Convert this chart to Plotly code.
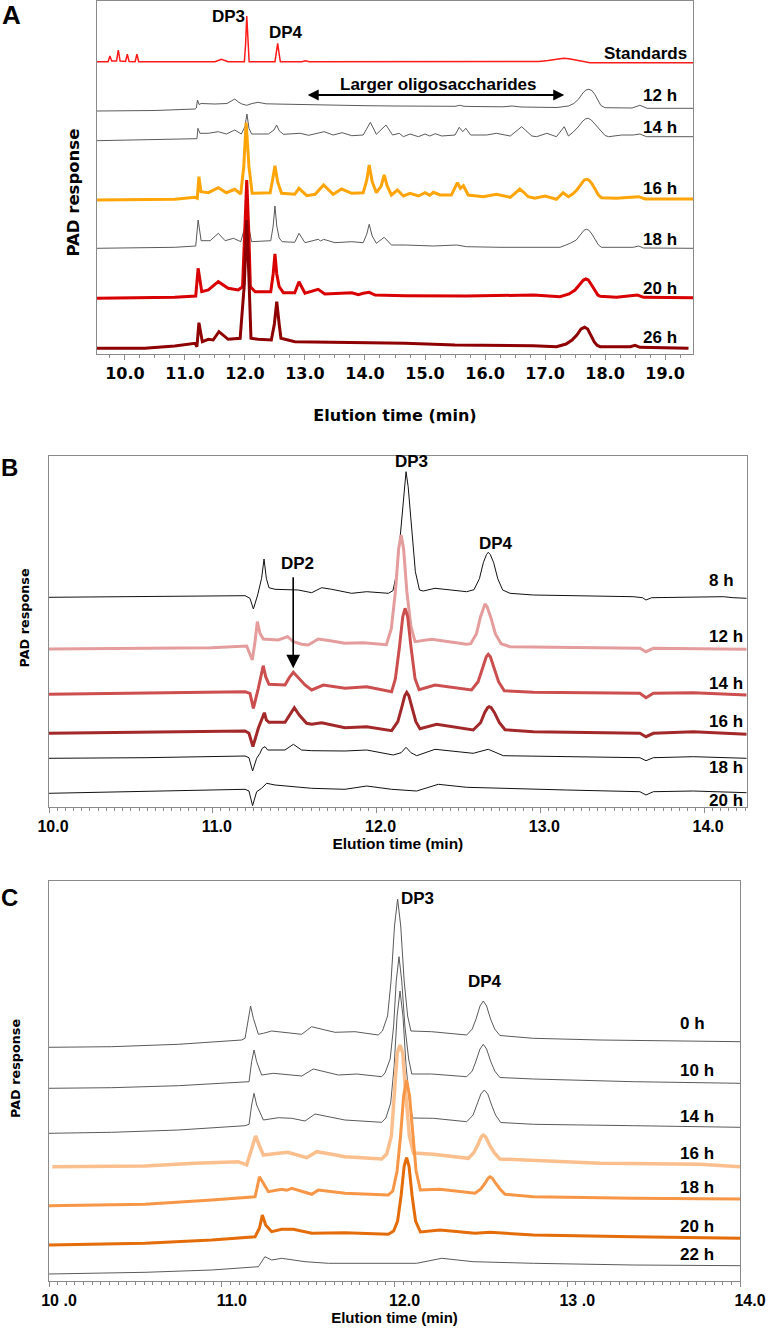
import plotly.graph_objects as go

W, H = 771, 1330

# ---------------- DATA (elution time in min, PAD response in arbitrary stacked units) -------------
# Panel A
A_STD = [(9.53,292.3),(9.72,292.3),(9.75,298),(9.78,293),(9.86,293),(9.89,304),(9.92,293),(10.01,292.5),(10.04,299.7),(10.07,292.5),(10.17,292.3),(10.20,299.7),(10.23,292.3),(11.5,292.3),(11.61,294.7),(11.72,292.3),(11.99,292.3),(12.01,309),(12.03,338),(12.05,309),(12.07,292.3),(12.50,292.3),(12.525,302),(12.545,310.7),(12.565,302),(12.59,292.3),(12.95,292.3),(13.01,293.3),(13.07,292.3),(13.45,292.3),(13.5,292.7),(13.55,292.3),(16.5,292),(16.9,292.5),(17.05,293.5),(17.15,294.6),(17.23,295.4),(17.31,295.7),(17.4,295.2),(17.5,294),(17.62,292.4),(17.75,291.3),(19.47,291.3)]
A_12 = [(9.53,243),(10.5,243.5),(11.17,245),(11.19,246),(11.21,254),(11.235,249.5),(11.27,250.5),(11.5,250),(11.7,250.5),(11.77,252.5),(11.83,255),(11.89,252),(11.95,250),(12.03,248.7),(12.12,250.5),(12.22,251.7),(12.35,250.2),(12.5,250),(13.0,249.2),(13.5,248.7),(14.0,248.3),(14.5,248),(15.5,247.7),(15.58,248.7),(15.65,247.7),(15.8,247.5),(16.3,247.2),(16.45,248),(16.6,247),(17.2,246.5),(17.39,248),(17.48,250.5),(17.56,255),(17.63,261),(17.68,264),(17.73,264.7),(17.78,263.5),(17.83,259.5),(17.88,253.5),(17.93,248.5),(18.0,246.3),(18.45,246),(18.58,248.7),(18.7,245.7),(19.47,245.7)]
A_14 = [(9.53,213.3),(11.17,214.7),(11.2,215.3),(11.217,225.7),(11.25,220.7),(11.39,220.7),(11.556,222.3),(11.69,220),(11.83,224),(11.94,220),(12.0,227.3),(12.033,240),(12.067,225.7),(12.11,220),(12.39,220),(12.483,224),(12.528,229),(12.57,223.3),(12.64,219.7),(12.92,220.7),(13.06,218.7),(13.32,222.3),(13.47,219),(13.62,221.3),(13.78,218.3),(13.97,219),(14.09,231.7),(14.19,219.7),(14.35,229),(14.46,219),(14.57,220.7),(14.64,217.3),(14.75,220),(14.89,217.3),(15.0,220),(15.08,218),(15.17,220.3),(15.28,218),(15.5,219),(15.57,226.7),(15.63,222.3),(15.68,225.7),(15.76,219),(16.03,219),(16.19,220.7),(16.42,218),(16.55,224),(16.61,227.3),(16.67,224),(16.78,218),(16.86,217.3),(17.03,220.7),(17.19,217.3),(17.32,227.3),(17.39,218),(17.47,222),(17.55,227),(17.63,233),(17.68,235.3),(17.72,235.7),(17.77,234),(17.83,230),(17.9,226),(17.95,222),(18.0,218.5),(18.06,217.3),(18.28,219),(18.47,219),(18.58,220),(18.69,217.3),(19.47,217.3)]
A_16 = [(9.53,154),(10.83,154.7),(11.17,156.7),(11.206,155.7),(11.233,177.3),(11.267,162.3),(11.39,161.3),(11.556,166.3),(11.69,161.3),(11.83,164.7),(11.93,160),(11.98,187.3),(12.02,231.3),(12.067,187.3),(12.12,160.7),(12.42,161.3),(12.46,174),(12.5,188.3),(12.544,172.3),(12.61,160.7),(12.83,159.7),(12.9,165.7),(13.03,158.3),(13.17,159.7),(13.31,169),(13.47,159.7),(13.61,165),(13.78,160.7),(13.97,161.3),(14.03,174),(14.07,189),(14.12,172.3),(14.19,161.3),(14.27,168),(14.32,179),(14.37,168),(14.44,159),(14.54,164),(14.64,158),(14.75,160.7),(14.89,158),(15.0,161.3),(15.08,158.7),(15.14,161.7),(15.25,159),(15.44,159),(15.54,171.3),(15.59,165.7),(15.64,168.3),(15.72,159),(15.97,157.3),(16.19,159.7),(16.42,156.7),(16.52,162),(16.58,165),(16.64,162),(16.72,157.3),(16.83,155.7),(17.0,158),(17.19,154.7),(17.3,161.3),(17.39,157.3),(17.46,160),(17.53,164),(17.6,170),(17.65,173.8),(17.69,174.7),(17.73,174),(17.78,170.5),(17.84,164),(17.89,159),(17.94,156.3),(18.19,155.7),(18.56,157.3),(18.67,155),(19.47,155)]
A_18 = [(9.53,105.7),(10.83,106.7),(11.18,108),(11.22,134),(11.27,113.3),(11.42,113.3),(11.556,120.7),(11.67,113.3),(11.81,115.7),(11.93,112.3),(11.99,125),(12.03,140.7),(12.07,125),(12.11,112.3),(12.43,113.3),(12.47,128),(12.5,148),(12.53,128),(12.57,116),(12.62,112.3),(12.83,111.7),(12.9,120.7),(13.0,111.3),(13.22,114.7),(13.26,113),(13.31,114.7),(13.5,111.3),(13.78,112.3),(13.97,111.3),(14.03,120),(14.07,129.7),(14.12,118),(14.19,110.7),(14.32,116.7),(14.44,109),(14.67,109),(15.14,108),(15.53,109),(15.69,107.3),(16.25,106.7),(17.25,106.7),(17.42,110.7),(17.52,114),(17.6,120),(17.65,123.8),(17.69,124.7),(17.73,123.8),(17.78,120),(17.84,114),(17.89,109),(17.94,106.7),(18.47,106.7),(18.56,108),(18.64,106),(19.47,105.7)]
A_20 = [(9.53,55.7),(10.83,56.7),(11.18,58),(11.22,85.7),(11.28,62.3),(11.39,64),(11.556,72.3),(11.72,65.7),(11.89,64),(11.96,67.3),(11.995,120),(12.03,174),(12.065,120),(12.09,67.3),(12.17,62.3),(12.43,62.3),(12.47,80),(12.5,100),(12.53,80),(12.57,67.3),(12.64,61.3),(12.83,61.3),(12.9,72.3),(13.0,60.7),(13.22,64.7),(13.33,60),(13.78,61.3),(13.89,59.3),(13.97,60.7),(14.07,61.7),(14.17,59),(14.67,58.3),(15.69,58),(16.42,58.7),(16.81,59),(17.25,57.3),(17.4,60),(17.5,64),(17.58,69.5),(17.64,74),(17.68,75),(17.72,74),(17.77,69.5),(17.83,63),(17.88,59),(17.92,57.7),(18.19,56.7),(18.54,59),(18.64,56.7),(19.47,56.3)]
A_26 = [(9.53,5.7),(10.33,5.7),(10.83,8),(11.17,10.7),(11.2,7.3),(11.233,31.3),(11.29,12.3),(11.39,14.7),(11.47,14),(11.567,22.3),(11.72,14.7),(11.92,15.7),(11.99,70),(12.03,134),(12.07,70),(12.1,15.7),(12.22,14.7),(12.44,14),(12.49,30),(12.53,52.3),(12.57,30),(12.6,15.7),(12.83,12.3),(14.67,10.7),(15.5,9),(16.8,8.3),(17.19,7.3),(17.35,10),(17.45,14),(17.53,19),(17.6,25),(17.66,26.7),(17.71,25),(17.76,19),(17.82,12),(17.87,8.5),(17.92,7.3),(18.42,7.3),(18.5,8.7),(18.58,6.7),(19.39,5.7)]
A_TICKS = [10, 11, 12, 13, 14, 15, 16, 17, 18, 19]
A_TICKTEXT = ["10.0", "11.0", "12.0", "13.0", "14.0", "15.0", "16.0", "17.0", "18.0", "19.0"]

# Panel B
B_8 = [(10.0,209.4),(10.586,210),(11.197,211),(11.227,208.4),(11.248,197.7),(11.274,211.7),(11.298,228.4),(11.313,247.7),(11.327,228.4),(11.343,219),(11.38,217.4),(11.522,216.7),(11.604,214),(11.665,219),(11.726,217.4),(11.848,213.4),(11.94,215),(12.072,213.4),(12.1,216),(12.125,235),(12.15,280),(12.168,320),(12.18,335),(12.193,320),(12.212,280),(12.237,235),(12.262,216.7),(12.285,215.7),(12.357,218.4),(12.55,215),(12.595,217),(12.628,228),(12.652,244),(12.671,252),(12.682,254.4),(12.695,252),(12.715,244),(12.74,228),(12.77,216.7),(12.815,213.4),(12.957,211.7),(13.567,210),(13.624,209),(13.645,206.7),(13.68,209),(14.117,210),(14.178,209),(14.26,208.4)]
B_12 = [(10.0,157.7),(10.586,158.4),(10.993,159),(11.207,160.7),(11.241,146.7),(11.258,165),(11.272,185),(11.288,173.4),(11.308,167.7),(11.4,166.7),(11.457,170),(11.492,165),(11.542,162.4),(11.583,161.7),(11.644,167.7),(11.726,165.7),(11.807,163.4),(11.919,164),(12.06,162),(12.09,178),(12.115,215),(12.135,258),(12.15,271.7),(12.165,258),(12.185,215),(12.21,180),(12.235,165),(12.336,167.4),(12.55,162.4),(12.575,163),(12.61,173),(12.635,190),(12.655,201),(12.662,202.7),(12.675,200),(12.7,188),(12.725,173),(12.76,163),(12.815,160),(13.16,159),(13.608,158.4),(13.645,155),(13.69,158.4),(14.26,157.4)]
B_14 = [(10.0,112.4),(10.586,113.4),(11.197,115),(11.227,113.4),(11.248,98.4),(11.278,118.4),(11.298,135),(11.308,141),(11.323,130),(11.343,122.4),(11.441,121.7),(11.467,129),(11.492,134.4),(11.522,129),(11.563,121.7),(11.604,116.7),(11.675,121.7),(11.807,118.4),(11.94,120),(12.092,115),(12.115,128),(12.14,160),(12.16,190),(12.174,198.4),(12.19,190),(12.21,160),(12.235,128),(12.26,117),(12.357,121.7),(12.58,116.7),(12.62,125),(12.65,140),(12.67,150),(12.682,152.4),(12.695,150),(12.715,140),(12.745,125),(12.78,116),(12.957,114.4),(13.608,113.4),(13.645,109),(13.69,113.4),(13.934,114),(14.26,111.7)]
B_16 = [(10.0,73.4),(10.586,74.4),(11.197,75.7),(11.221,73.4),(11.245,60),(11.278,78.4),(11.302,88.4),(11.315,94),(11.327,86.7),(11.343,84.4),(11.441,84.4),(11.467,91.7),(11.498,99),(11.528,91.7),(11.573,83.4),(11.604,82.4),(11.665,84),(11.807,79),(11.94,80),(12.092,76),(12.13,85),(12.155,100),(12.172,111),(12.184,114.4),(12.197,111),(12.215,100),(12.24,85),(12.265,78),(12.367,82.4),(12.59,76.7),(12.635,84),(12.66,94),(12.678,99),(12.688,100),(12.7,99),(12.72,94),(12.75,84),(12.785,77),(12.957,75),(13.608,73.4),(13.645,70),(13.69,73.4),(13.934,75),(14.26,72.4)]
B_18 = [(10.0,48.4),(10.586,49),(11.197,50.7),(11.221,49),(11.243,35.7),(11.268,48.4),(11.288,53.4),(11.302,58.4),(11.319,60),(11.335,56.7),(11.441,56.7),(11.492,62.4),(11.542,56.7),(11.604,56),(11.807,55.7),(11.94,56.7),(12.102,51.7),(12.15,54),(12.18,59.4),(12.21,54),(12.245,51),(12.357,57.4),(12.59,53.4),(12.682,57.4),(12.774,51),(13.16,50),(13.608,49),(13.645,46),(13.69,49),(13.934,50),(14.26,48.4)]
B_20 = [(10.0,13.4),(10.586,15),(11.197,17.4),(11.221,15.7),(11.243,1),(11.268,15),(11.298,18.4),(11.329,23.4),(11.38,21.7),(11.604,18.4),(11.807,17.4),(11.94,20.7),(12.092,17.4),(12.245,15.7),(12.377,22.4),(12.55,19.4),(12.753,18.4),(13.16,16.7),(13.608,15),(13.645,11.7),(13.69,15),(13.934,15.7),(14.26,14)]
B_TICKS = [10, 11, 12, 13, 14]
B_TICKTEXT = ["10.0", "11.0", "12.0", "13.0", "14.0"]

# Panel C
C_0 = [(10.0,233.7),(10.363,234.3),(10.749,236.7),(10.942,239.3),(11.115,241),(11.135,242.7),(11.154,262.7),(11.167,275),(11.183,262.7),(11.212,246.7),(11.241,247.7),(11.289,250),(11.463,246.7),(11.52,254.3),(11.598,251),(11.656,248.7),(11.771,249.3),(11.906,246),(11.93,250),(11.96,265),(11.98,300),(12.0,355),(12.018,382),(12.036,355),(12.056,300),(12.076,265),(12.095,250),(12.215,249.3),(12.418,246),(12.45,252),(12.472,262),(12.495,275),(12.514,280),(12.533,275),(12.556,262),(12.58,252),(12.61,245.5),(12.804,242.7),(13.19,241),(13.768,240.3),(14.0,239.3)]
C_10 = [(10.0,192.7),(10.363,193.3),(10.749,195.3),(11.135,198.7),(11.158,199.3),(11.173,219.3),(11.187,231),(11.202,219.3),(11.231,206),(11.299,207.7),(11.463,205),(11.53,212),(11.607,208.7),(11.675,206),(11.781,207),(11.926,204.3),(11.945,208),(11.975,222),(11.995,255),(12.01,300),(12.026,324.3),(12.042,300),(12.06,255),(12.082,222),(12.1,207),(12.215,207),(12.418,204.3),(12.45,210),(12.472,220),(12.495,232),(12.514,236.7),(12.533,232),(12.556,220),(12.58,210),(12.61,203.5),(12.804,202),(13.382,199.3),(14.0,197.7)]
C_14 = [(10.0,147.7),(10.363,148.7),(10.749,151),(11.135,155.3),(11.158,156.7),(11.173,176),(11.187,187.7),(11.202,176),(11.241,161),(11.328,163.3),(11.405,162.7),(11.482,160),(11.54,167),(11.617,164.3),(11.713,161),(11.926,158.7),(11.95,163),(11.978,178),(11.998,215),(12.015,265),(12.032,290),(12.049,265),(12.067,215),(12.088,178),(12.105,163),(12.225,162.7),(12.418,159.3),(12.455,166),(12.478,176),(12.5,187),(12.52,191),(12.54,187),(12.562,176),(12.585,166),(12.615,158.5),(12.804,156.7),(13.382,155.3),(14.0,153.7)]
C_16 = [(10.019,114.3),(10.556,115),(10.845,117.7),(11.096,119.3),(11.144,116),(11.173,132.7),(11.196,145),(11.216,136),(11.241,126),(11.328,127.7),(11.382,128.7),(11.492,123.3),(11.55,129.3),(11.636,126.7),(11.713,124.3),(11.926,122),(11.955,127),(11.982,145),(12.0,190),(12.016,228),(12.032,236),(12.048,228),(12.064,190),(12.086,145),(12.11,128),(12.225,126.7),(12.427,122.7),(12.458,128),(12.482,136),(12.502,144),(12.514,146),(12.528,144),(12.55,136),(12.578,128),(12.61,122),(12.804,120.3),(13.19,117.7),(13.768,116.7),(14.0,114.3)]
C_18 = [(10.0,75.3),(10.556,76.7),(10.942,81),(11.193,84.3),(11.206,94.3),(11.218,104.3),(11.241,97.7),(11.27,89.3),(11.347,91.7),(11.376,90.7),(11.405,92.7),(11.521,86.7),(11.559,91),(11.713,87.7),(11.964,86),(11.99,90),(12.015,110),(12.035,145),(12.053,185),(12.07,201),(12.087,185),(12.105,145),(12.125,110),(12.15,91),(12.263,91.7),(12.466,87.7),(12.5,92),(12.525,98),(12.543,103),(12.553,104.3),(12.565,103),(12.585,98),(12.61,92),(12.64,86.7),(12.804,84.3),(13.382,82.7),(14.0,82)]
C_20 = [(10.0,36),(10.556,37.7),(10.942,41),(11.193,44.3),(11.218,52.7),(11.235,66),(11.254,56),(11.289,49.3),(11.347,51.7),(11.414,51.7),(11.521,47.7),(11.713,48.3),(11.964,46.7),(11.995,50),(12.018,60),(12.038,85),(12.056,115),(12.07,123.3),(12.084,115),(12.102,85),(12.122,60),(12.15,49),(12.263,51),(12.466,47.7),(12.553,48.7),(12.804,46),(13.382,44.3),(14.0,42.7)]
C_22 = [(10.0,7),(10.556,8.7),(10.942,11),(11.212,14.3),(11.25,24.3),(11.289,21),(11.347,22.7),(11.482,19.3),(11.617,17.7),(12.061,17.7),(12.128,17.7),(12.273,22.7),(12.456,19.3),(12.804,17.7),(13.382,16),(14.0,15.3)]
C_TICKS = [10, 11, 12, 13, 14]
C_TICKTEXT = ["10 .0", "11.0", "12.0", "13 .0", "14.0"]

# ---------------- STYLE ----------------
ARIAL = "Liberation Sans, Arial, sans-serif"
WIDE = "DejaVu Sans, Verdana, sans-serif"
GRAY = "#5a5a5a"
AX = "#8a8a8a"

fig = go.Figure()


def add(pts, name, color, width, xa, ya):
    fig.add_trace(go.Scatter(
        x=[p[0] for p in pts], y=[p[1] for p in pts], mode="lines", name=name,
        line=dict(color=color, width=width), xaxis=xa, yaxis=ya,
        showlegend=False, hoverinfo="skip"))


add(A_STD, "Standards", "#ff1a1a", 1.5, "x", "y")
add(A_12, "12 h", GRAY, 1.0, "x", "y")
add(A_14, "14 h", GRAY, 1.0, "x", "y")
add(A_16, "16 h", "#ffa50a", 3.0, "x", "y")
add(A_18, "18 h", GRAY, 1.0, "x", "y")
add(A_20, "20 h", "#d80000", 3.0, "x", "y")
add(A_26, "26 h", "#8e0000", 3.0, "x", "y")

add(B_8, "8 h", "#111111", 1.0, "x2", "y2")
add(B_12, "12 h", "#e59c9c", 3.0, "x2", "y2")
add(B_14, "14 h", "#cc4e4e", 3.0, "x2", "y2")
add(B_16, "16 h", "#a3282a", 3.0, "x2", "y2")
add(B_18, "18 h", "#111111", 1.0, "x2", "y2")
add(B_20, "20 h", "#111111", 1.0, "x2", "y2")

add(C_0, "0 h", GRAY, 1.0, "x3", "y3")
add(C_10, "10 h", GRAY, 1.0, "x3", "y3")
add(C_14, "14 h", GRAY, 1.0, "x3", "y3")
add(C_16, "16 h", "#fbbf8e", 3.5, "x3", "y3")
add(C_18, "18 h", "#f79646", 3.0, "x3", "y3")
add(C_20, "20 h", "#e46c0a", 3.0, "x3", "y3")
add(C_22, "22 h", GRAY, 1.0, "x3", "y3")


def xdom(l, r):
    return [l / W, r / W]


def ydom(top, bottom):
    return [1 - bottom / H, 1 - top / H]


def xaxis(dom, rng, tv, tt, tfont, minor_dt, shift, title, tfont_title, standoff, anchor):
    return dict(domain=dom, range=rng, anchor=anchor, automargin=False, showline=True, linecolor=AX,
                linewidth=1, mirror=True, ticks="outside", ticklen=5, tickwidth=1, tickcolor=AX,
                tickmode="array", tickvals=tv, ticktext=tt, tickfont=tfont,
                ticklabelshift=shift, showgrid=False, zeroline=False, fixedrange=True,
                minor=dict(tick0=10, dtick=minor_dt, ticks="outside", ticklen=3, tickcolor=AX,
                           tickwidth=1, showgrid=False),
                title=dict(text=title, font=tfont_title, standoff=standoff))


def yaxis(dom, rng, anchor):
    return dict(domain=dom, range=rng, anchor=anchor, automargin=False, showline=True, linecolor=AX,
                linewidth=1, mirror=True, ticks="", showticklabels=False, showgrid=False,
                zeroline=False, fixedrange=True)


fig.update_layout(
    width=W, height=H, margin=dict(l=0, r=0, t=0, b=0, autoexpand=False),
    paper_bgcolor="white", plot_bgcolor="white", showlegend=False,
    xaxis=xaxis(xdom(96.7, 693.3), [9.53, 19.47], A_TICKS, A_TICKTEXT,
                dict(family=WIDE, size=16, color="black", weight="bold"), 0.25, 0,
                "Elution time (min)", dict(family=WIDE, size=16, color="black", weight="bold"), 27, "y"),
    yaxis=yaxis(ydom(0.7, 354), [0, 353.3], "x"),
    xaxis2=xaxis(xdom(49, 746.7), [10.0, 14.26], B_TICKS, B_TICKTEXT,
                 dict(family=ARIAL, size=16, color="black", weight="bold"), 0.05, 4,
                 "Elution time (min)", dict(family=ARIAL, size=15.5, color="black", weight="bold"), 0, "y2"),
    yaxis2=yaxis(ydom(455.7, 806.7), [0, 351], "x2"),
    xaxis3=xaxis(xdom(49, 740), [10.0, 14.0], C_TICKS, C_TICKTEXT,
                 dict(family=ARIAL, size=16, color="black", weight="bold"), 0.05, 10,
                 "Elution time (min)", dict(family=ARIAL, size=15, color="black", weight="bold"), 3, "y3"),
    yaxis3=yaxis(ydom(881, 1281), [0, 400], "x3"),
)

LAB = dict(family=ARIAL, size=17, color="black", weight="bold")
LET = dict(family=ARIAL, size=26, color="black", weight="bold")
ann = []


def txt(x, y, s, xr, yr, xanchor="center", font=LAB, angle=0):
    ann.append(dict(x=x, y=y, xref=xr, yref=yr, text=s, showarrow=False, xanchor=xanchor,
                    yanchor="middle", font=font, textangle=angle))


# y-axis titles
txt(73 / W, 1 - 192.5 / H, "PAD response", "paper", "paper",
    font=dict(family=WIDE, size=16.5, color="black", weight="bold"), angle=-90)
txt(23.5 / W, 1 - 618 / H, "PAD response", "paper", "paper",
    font=dict(family=WIDE, size=12.8, color="black", weight="bold"), angle=-90)
txt(15.5 / W, 1 - 1068.5 / H, "PAD response", "paper", "paper",
    font=dict(family=WIDE, size=12.8, color="black", weight="bold"), angle=-90)

# Panel A texts
txt(11.72, 338, "DP3", "x", "y")
txt(12.68, 322, "DP4", "x", "y")
txt(19.40, 301, "Standards", "x", "y", "right")
for s, v in [("12 h", 258.3), ("14 h", 227), ("16 h", 166), ("18 h", 115), ("20 h", 66), ("26 h", 17)]:
    txt(18.6, v, s, "x", "y", "left")
txt(15.22, 270, "Larger oligosaccharides", "x", "y")
ann.append(dict(x=17.32, y=259, ax=13.02, ay=259, xref="x", yref="y", axref="x", ayref="y",
                text="", showarrow=True, arrowhead=2, startarrowhead=2, arrowside="end+start",
                arrowwidth=2, arrowsize=1.1, startarrowsize=1.1, arrowcolor="black"))

# Panel B texts
txt(12.216, 345.7, "DP3", "x2", "y2")
txt(12.729, 263.7, "DP4", "x2", "y2")
txt(11.517, 243.7, "DP2", "x2", "y2")
ann.append(dict(x=11.491, y=138.4, ax=11.491, ay=231, xref="x2", yref="y2", axref="x2", ayref="y2",
                text="", showarrow=True, arrowhead=2, arrowwidth=1.6, arrowsize=1.7, arrowcolor="black"))
for s, v in [("8 h", 226.2), ("12 h", 170.2), ("14 h", 123.7), ("16 h", 85.7), ("18 h", 39.7), ("20 h", 6.7)]:
    txt(14.017, v, s, "x2", "y2", "left")

# Panel C texts
txt(12.133, 383, "DP3", "x3", "y3")
txt(12.524, 300, "DP4", "x3", "y3")
for s, v in [("0 h", 257.2), ("10 h", 211), ("14 h", 165), ("16 h", 128), ("18 h", 94), ("20 h", 55), ("22 h", 27)]:
    txt(13.643, v, s, "x3", "y3", "left")

# Panel letters
txt(11 / W, 1 - 15 / H, "A", "paper", "paper", font=LET)
txt(9 / W, 1 - 467 / H, "B", "paper", "paper", font=dict(LET, size=24))
txt(9 / W, 1 - 897 / H, "C", "paper", "paper", font=dict(LET, size=24))

fig.update_layout(annotations=ann)
fig.write_html("out.html", config={"displayModeBar": False},
               post_script="document.body.style.margin='0px';")
